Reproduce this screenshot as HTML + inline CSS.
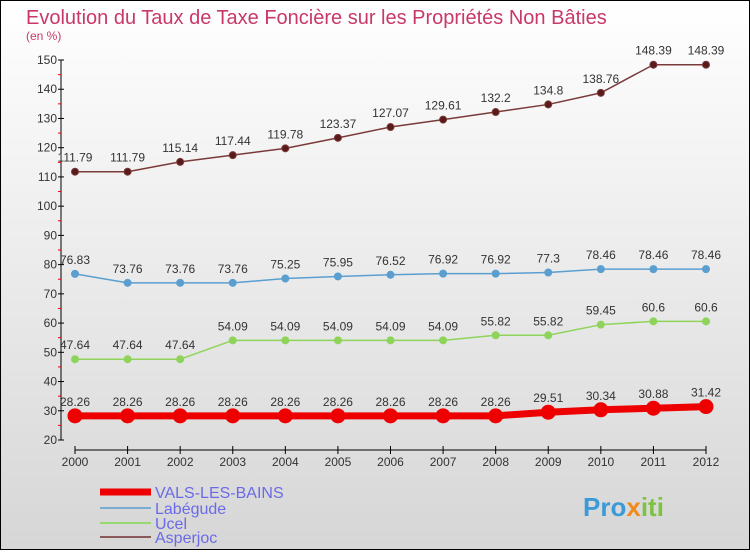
<!DOCTYPE html>
<html><head><meta charset="utf-8"><style>
html,body{margin:0;padding:0}
body{width:750px;height:550px;overflow:hidden;font-family:"Liberation Sans",sans-serif}
svg text{font-family:"Liberation Sans",sans-serif}
</style></head><body>
<svg id="chart" width="750" height="550" xmlns="http://www.w3.org/2000/svg">
<defs><linearGradient id="bg" x1="0" y1="0" x2="0" y2="1"><stop offset="0" stop-color="#ffffff"/><stop offset="1" stop-color="#d6d6d6"/></linearGradient></defs>
<rect x="0.5" y="0.5" width="749" height="549" fill="url(#bg)" stroke="#000"/>
<text x="26" y="24" font-size="20" fill="#c8386a">Evolution du Taux de Taxe Foncière sur les Propriétés Non Bâties</text>
<text x="26" y="40" font-size="12" fill="#c8386a">(en %)</text>
<g id="axes"></g>
<g id="series"></g>
<g id="legend"></g>
<text x="583" y="516" font-size="26" font-weight="bold" fill="#3a9bd8">Pro<tspan fill="#f08a1c">x</tspan><tspan fill="#7dc242">iti</tspan></text>
</svg>
<script>
const years=[2000,2001,2002,2003,2004,2005,2006,2007,2008,2009,2010,2011,2012];
const yTicks=[20,30,40,50,60,70,80,90,100,110,120,130,140,150];
const valsLesBains=[28.26,28.26,28.26,28.26,28.26,28.26,28.26,28.26,28.26,29.51,30.34,30.88,31.42];
const labegude=[76.83,73.76,73.76,73.76,75.25,75.95,76.52,76.92,76.92,77.3,78.46,78.46,78.46];
const ucel=[47.64,47.64,47.64,54.09,54.09,54.09,54.09,54.09,55.82,55.82,59.45,60.6,60.6];
const asperjoc=[111.79,111.79,115.14,117.44,119.78,123.37,127.07,129.61,132.2,134.8,138.76,148.39,148.39];
const NS="http://www.w3.org/2000/svg";
const xS=i=>75+i*(706-75)/(years.length-1);
const yS=v=>440-(v-20)*(380/130);
function mk(tag,attrs,parent,txt){const e=document.createElementNS(NS,tag);for(const k in attrs)e.setAttribute(k,attrs[k]);if(txt!==undefined)e.textContent=txt;parent.appendChild(e);return e;}
const axes=document.getElementById('axes');
let ya=mk('line',{x1:61,y1:60,x2:61,y2:440,stroke:'#000'},axes);


yTicks.forEach((t,i)=>{
  mk('line',{x1:58,x2:64,y1:yS(t),y2:yS(t),stroke:'#000'},axes);
  if(i<yTicks.length-1)mk('line',{x1:58,x2:61,y1:yS(t+5),y2:yS(t+5),stroke:'#e00'},axes);
  const tx=mk('text',{x:57,y:yS(t)+4,'font-size':12,'text-anchor':'end',fill:'#333'},axes,String(t));
  
  
});
let xa=mk('line',{x1:75,y1:450,x2:706,y2:450,stroke:'#000'},axes);


years.forEach((y,i)=>{
  mk('line',{x1:xS(i),x2:xS(i),y1:446,y2:454,stroke:'#000'},axes);
  const tx=mk('text',{x:xS(i),y:466,'font-size':12,'text-anchor':'middle',fill:'#333'},axes,String(y));
  
  
});
const sg=document.getElementById('series');
function drawSeries(name,vals,color,w,r,dot){
  const g=mk('g',{},sg);
  
  
  const pl=mk('polyline',{points:vals.map((v,i)=>xS(i)+','+yS(v)).join(' '),fill:'none',stroke:color,'stroke-width':w},g);
  
  
  vals.forEach((v,i)=>{
    const c=mk('circle',{cx:xS(i),cy:yS(v),r:r,fill:dot,stroke:color,'stroke-width':1},g);
    
    
    const t=mk('text',{x:xS(i),y:yS(v)-10,'font-size':12,'text-anchor':'middle',fill:'#333'},g,String(v));
    
    
  });
}
drawSeries('asperjoc',asperjoc,'#7a3a3a',1.5,3.5,'#5a1a1a');
drawSeries('labegude',labegude,'#5b9fd0',1.5,3.5,'#5b9fd0');
drawSeries('ucel',ucel,'#8fd45a',1.5,3.5,'#8fd45a');
drawSeries('vals-les-bains',valsLesBains,'#ee0000',7,7,'#ee0000');
const lg=document.getElementById('legend');
[['VALS-LES-BAINS','#ee0000',7,492],['Labégude','#7aaed0',2,508],['Ucel','#98d870',2,523],['Asperjoc','#8a5a5a',2,537]].forEach(([n,c,w,y])=>{
  const g=mk('g',{},lg);
  
  
  mk('line',{x1:100,x2:151,y1:y,y2:y,stroke:c,'stroke-width':w},g);
  mk('text',{x:155,y:y+6,'font-size':16,fill:'#6a6ae8'},g,n);
});
</script>
</body></html>
